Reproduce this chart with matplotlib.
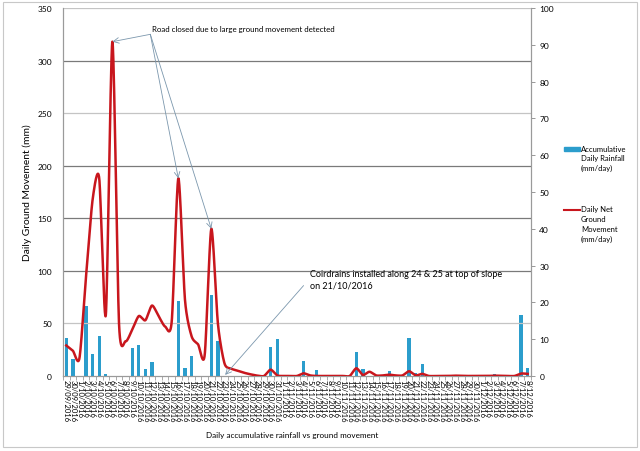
import numpy as np
import pandas as pd
import matplotlib
matplotlib.use("Agg")
import matplotlib.pyplot as plt
from matplotlib.patches import Rectangle

plt.rcParams['font.family'] = ['Lato', 'DejaVu Sans']

# categories: one per day
dates = pd.date_range('2016-09-29', '2016-12-08', freq='D')
date_labels = [f"{d.day}/{d.month:02d}/{d.year}" for d in dates]

# accumulative daily rainfall (mm/day), right axis
rainfall = [10.4, 4.6, 0, 19, 6, 10.9, 0.5, 0, 0, 0,
            7.6, 8.4, 2, 3.8, 0, 0, 0, 20.4, 2.2, 5.5,
            0, 0, 22, 9.6, 0, 0, 0, 0, 0, 0,
            0, 8, 10, 0, 0, 0, 4, 0, 1.5, 0,
            0, 0, 0, 0, 6.5, 2, 0, 0, 0, 1.4,
            0, 0, 10.4, 0.8, 3.3, 0, 0, 0, 0, 0,
            0, 0, 0, 0, 0, 0.5, 0, 0, 0, 16.6,
            2.2]

# daily net ground movement (mm), left axis
movement = [29, 24, 17, 95, 168, 188, 58, 318, 50, 33,
            44, 57, 53, 67, 57, 47, 52, 188, 73, 38,
            30, 20, 140, 50, 12, 7, 5, 3, 1.5, 0.3,
            0, 6, 0.5, 0, 0, 0, 2.5, 0.5, 0, 0,
            0, 0, 0, 0, 7.3, 1, 4, 0.5, 0.5, 1.2,
            0.5, 0.5, 4.5, 0.5, 2, 0, 0, 0, 0, 0.3,
            0, 0, 0, 0, 0, 0.3, 0, 0, 0, 2.3,
            2]


def smooth(x, y, k=0.75, n=24):
    # smoothed line through every point (cardinal spline, Excel-like look)
    x = np.asarray(x, float)
    y = np.asarray(y, float)
    px = np.concatenate([[x[0]], x, [x[-1]]])
    py = np.concatenate([[y[0]], y, [y[-1]]])
    t = np.linspace(0, 1, n, endpoint=False)
    h00 = 2 * t**3 - 3 * t**2 + 1
    h10 = t**3 - 2 * t**2 + t
    h01 = -2 * t**3 + 3 * t**2
    h11 = t**3 - t**2
    xs, ys = [], []
    for i in range(1, len(px) - 2):
        for p, out in ((px, xs), (py, ys)):
            m1 = k * (p[i + 1] - p[i - 1]) / 2
            m2 = k * (p[i + 2] - p[i]) / 2
            out.extend(h00 * p[i] + h10 * m1 + h01 * p[i + 1] + h11 * m2)
    xs.append(x[-1])
    ys.append(y[-1])
    return np.array(xs), np.array(ys)


fig = plt.figure(figsize=(6.4, 4.52), dpi=100)
fig.patches.append(Rectangle((0.004, 0.008), 0.992, 0.985, transform=fig.transFigure,
                             fill=False, edgecolor='#c8c8c8', linewidth=0.8))
ax = fig.add_axes([0.0984, 0.166, 0.7313, 0.814])
ax2 = ax.twinx()

x = np.arange(len(dates))

# bars on secondary axis
ax2.bar(x, rainfall, width=0.5, color='#2b9dcc', zorder=2)
ax2.set_ylim(0, 100)
ax2.set_yticks(np.arange(0, 101, 10))
ax2.tick_params(axis='y', labelsize=6, length=3, width=0.6, color='#888888', pad=3)

# smoothed movement line on primary axis, drawn above bars
ax.set_zorder(ax2.get_zorder() + 1)
ax.patch.set_visible(False)
sx, sy = smooth(x, movement)
ax.plot(sx, sy, color='#c8161d', linewidth=1.8, zorder=3)
ax.set_ylim(0, 350)
ax.set_yticks(np.arange(0, 351, 50))
ax.set_xlim(-0.5, len(dates) - 0.5)
ax.tick_params(axis='y', labelsize=6, length=0, pad=8)

for v in range(50, 351, 50):
    shade = '#7a7a7a' if v in (100, 150, 200, 300) else '#c4c4c4'
    ax.axhline(v, color=shade, linewidth=0.9, zorder=0)

ax.set_xticks(x)
ax.set_xticklabels(date_labels, rotation=-90, fontsize=5.5)
ax.set_xticks(np.arange(-0.5, len(dates), 1), minor=True)
ax.tick_params(axis='x', which='major', length=0, pad=2)
ax.tick_params(axis='x', which='minor', length=3, width=0.5, color='#888888')

for a in (ax, ax2):
    a.spines['top'].set_visible(False)
    a.spines['left'].set_color('#9a9a9a')
    a.spines['right'].set_color('#9a9a9a')
    a.spines['bottom'].set_color('#9a9a9a')

ax.set_ylabel('Daily Ground Movement (mm)', fontsize=7.4, labelpad=4)
fig.text(0.456, 0.037, 'Daily accumulative rainfall vs ground movement', fontsize=5.9,
         ha='center', va='center')

# annotations
arrow = dict(arrowstyle='->', color='#7b97ad', linewidth=0.6, shrinkA=0, shrinkB=0)
for idx in (7, 17, 22):
    ax.annotate('', xy=(idx, movement[idx]), xytext=(12.75, 325),
                arrowprops=arrow)
ax.text(13.0, 331, 'Road closed due to large ground movement detected',
        fontsize=5.7, ha='left', va='center')

ax.annotate('', xy=(24.1, 1), xytext=(36.0, 86), arrowprops=arrow)
ax.text(36.9, 82, 'Coirdrains installed along 24 & 25 at top of slope\non 21/10/2016',
        fontsize=6.5, ha='left', va='bottom', linespacing=1.45)

# legend drawn manually in figure coords
fig.patches.append(Rectangle((0.882, 0.664), 0.025, 0.009, transform=fig.transFigure,
                             color='#2b9dcc'))
fig.text(0.908, 0.678, 'Accumulative\nDaily Rainfall\n(mm/day)', fontsize=5.5,
         ha='left', va='top', linespacing=1.45)
fig.lines.append(plt.Line2D([0.882, 0.907], [0.533, 0.533], transform=fig.transFigure,
                            color='#c8161d', linewidth=1.5))
fig.text(0.908, 0.544, 'Daily Net\nGround\nMovement\n(mm/day)', fontsize=5.5,
         ha='left', va='top', linespacing=1.5)

fig.savefig('out.png', dpi=100)
